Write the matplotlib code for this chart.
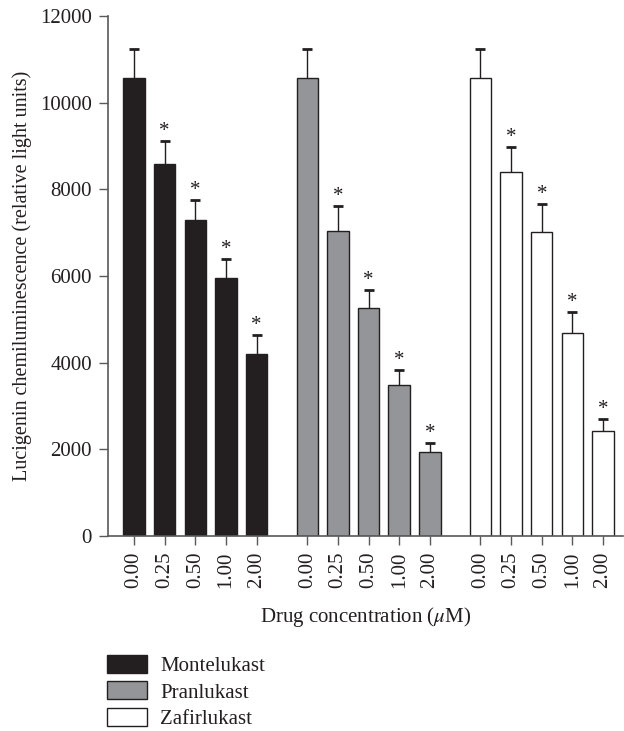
import numpy as np
import matplotlib.pyplot as plt
from matplotlib.patches import Patch

plt.rcParams['font.family'] = ['Liberation Serif', 'DejaVu Serif']
plt.rcParams['mathtext.fontset'] = 'stix'

concentrations = ["0.00", "0.25", "0.50", "1.00", "2.00"]
drugs = ["Montelukast", "Pranlukast", "Zafirlukast"]

montelukast = [10580, 8580, 7285, 5955, 4210]
montelukast_err = [650, 530, 475, 445, 438]
pranlukast = [10580, 7030, 5255, 3475, 1940]
pranlukast_err = [650, 585, 422, 355, 208]
zafirlukast = [10580, 8395, 7005, 4685, 2423]
zafirlukast_err = [650, 583, 655, 484, 277]

# significance vs 0.00 for each group
significant = [False, True, True, True, True]

values = [montelukast, pranlukast, zafirlukast]
errors = [montelukast_err, pranlukast_err, zafirlukast_err]
colors = ["#231f20", "#939598", "#ffffff"]
edge = "#231f20"
axis_col = "#58595b"

fig = plt.figure(figsize=(6.24, 7.31), dpi=100)
ax = fig.add_axes([108 / 624, 1 - 536 / 731, (623 - 108) / 624, (536 - 16) / 731])

group_step = 5.65
width = 0.7
all_pos = []
all_labels = []
for g, (vals, errs, col) in enumerate(zip(values, errors, colors)):
    pos = g * group_step + np.arange(len(concentrations))
    ax.bar(pos, vals, width=width, color=col, edgecolor=edge, linewidth=1.0, zorder=2)
    eb = ax.errorbar(pos, vals, yerr=[np.zeros(len(errs)), errs], fmt="none",
                     ecolor=edge, elinewidth=1.0, capsize=3.6, capthick=2.0, zorder=3)
    eb[1][0].set_visible(False)  # hide lower caps
    for p, v, e, s in zip(pos, vals, errs, significant):
        if s:
            ax.annotate("*", (p, v + e), xytext=(0, 0), textcoords="offset points",
                        ha="center", va="bottom", fontsize=15, color=edge)
    all_pos.extend(pos)
    all_labels.extend(concentrations)

ax.set_xlim(-0.85, 2 * group_step + 4 + 0.65)
ax.set_ylim(0, 12000)
ax.set_yticks(np.arange(0, 12001, 2000))
ax.set_xticks(all_pos)
ax.set_xticklabels(all_labels, rotation=90)

for side in ["top", "right"]:
    ax.spines[side].set_visible(False)
for side in ["left", "bottom"]:
    ax.spines[side].set_color(axis_col)
    ax.spines[side].set_linewidth(1.2)
ax.tick_params(axis="both", direction="out", length=6.5, width=1.0, color=axis_col,
               labelsize=15, labelcolor="#231f20", pad=5)

ax.set_ylabel("Lucigenin chemiluminescence (relative light units)", fontsize=14.5,
              color="#231f20", labelpad=6)
ax.set_xlabel("Drug concentration ($\\mu$M)", fontsize=15, color="#231f20", labelpad=12)

handles = [Patch(facecolor=c, edgecolor=edge, linewidth=1.0) for c in colors]
fig.legend(handles, drugs, loc="upper left", bbox_to_anchor=(107 / 624, 1 - 655 / 731),
           frameon=False, fontsize=15, handlelength=1.9, handleheight=0.95,
           handletextpad=0.65, labelspacing=0.25, borderpad=0, borderaxespad=0,
           labelcolor="#231f20")

fig.savefig("out.png", dpi=100)
